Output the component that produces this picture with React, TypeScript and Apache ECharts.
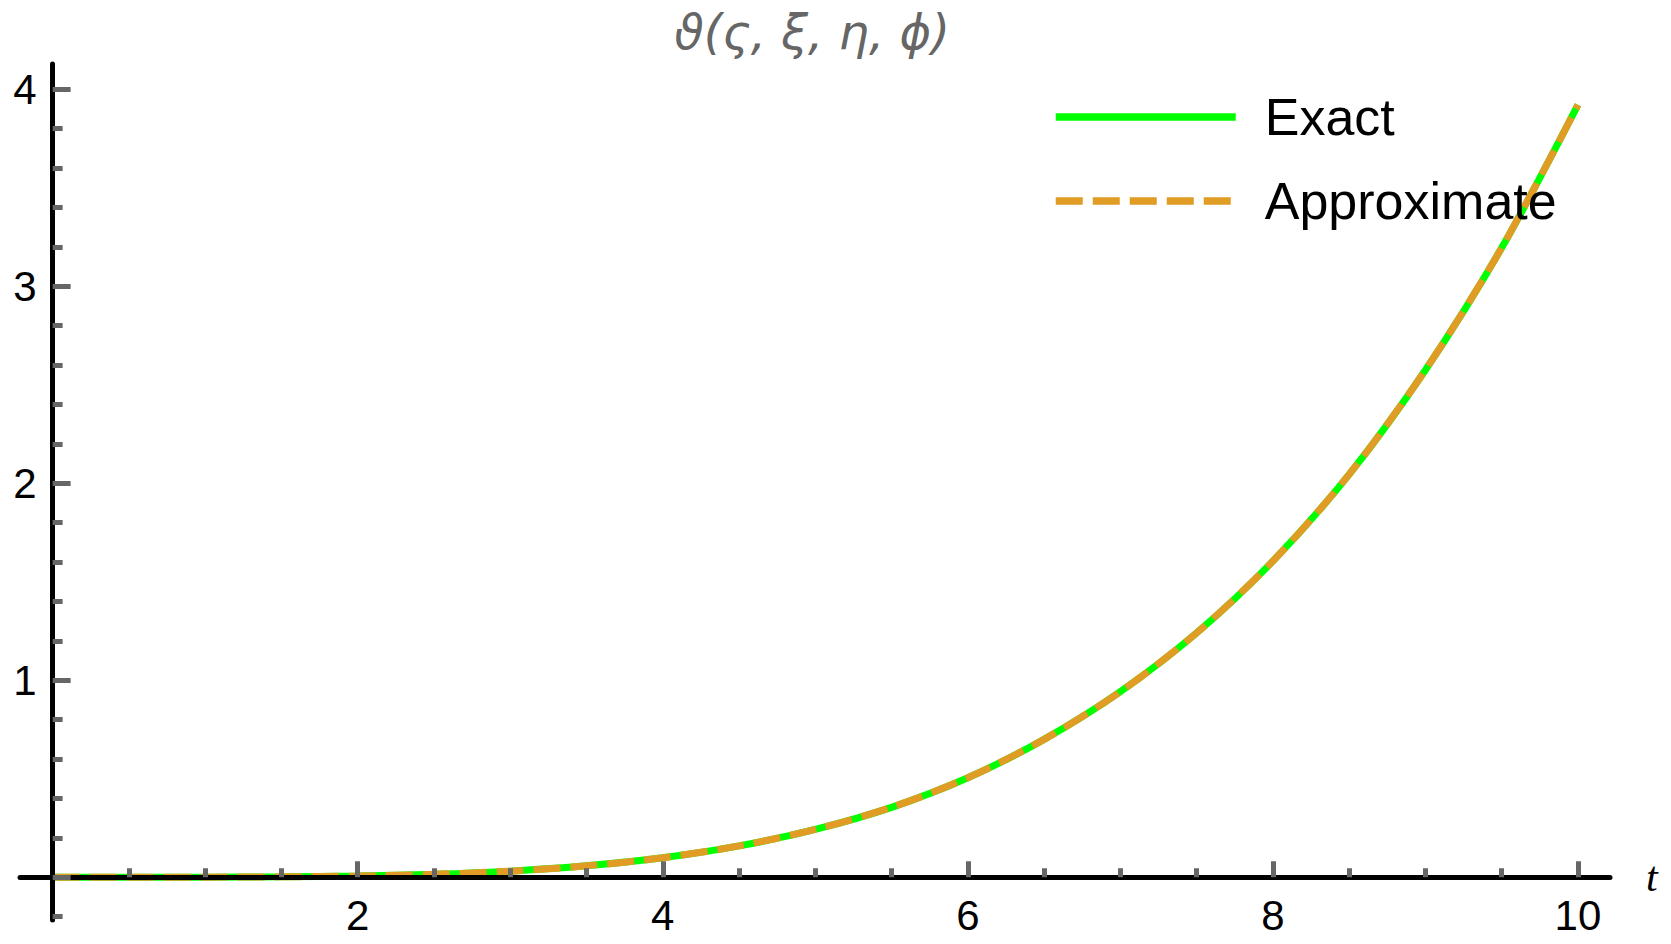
import React, { useEffect, useRef } from "react";
import * as echarts from "echarts";

// ---- data ----
const tValues = [0, 0.5, 1, 1.5, 2, 2.5, 3, 3.5, 4, 4.5, 5, 5.5, 6, 6.5, 7, 7.5, 8, 8.5, 9, 9.5, 10];
const exactValues = [0, 0.0, 0.0004, 0.002, 0.006, 0.015, 0.031, 0.058, 0.099, 0.159, 0.243, 0.355, 0.505, 0.7, 0.942, 1.24, 1.605, 2.045, 2.575, 3.195, 3.92];
const approxValues = [0, 0.0, 0.0004, 0.002, 0.006, 0.015, 0.031, 0.058, 0.099, 0.159, 0.243, 0.355, 0.505, 0.7, 0.942, 1.24, 1.605, 2.045, 2.575, 3.195, 3.92];

const seriesNames = ["Exact", "Approximate"];
const titleText = "ϑ(ς, ξ, η, ϕ)";
const xAxisName = "t";

const xMajorTicks = [2, 4, 6, 8, 10];
const xMinorTicks = [0.5, 1, 1.5, 2.5, 3, 3.5, 4.5, 5, 5.5, 6.5, 7, 7.5, 8.5, 9, 9.5];
const yMajorTicks = [0, 1, 2, 3, 4];
const yTickLabels = [1, 2, 3, 4];
const yMinorTicks = [-0.2, 0.2, 0.4, 0.6, 0.8, 1.2, 1.4, 1.6, 1.8, 2.2, 2.4, 2.6, 2.8, 3.2, 3.4, 3.6, 3.8];

const X_MIN = -0.214;
const X_MAX = 10.21;
const Y_MIN = -0.217;
const Y_MAX = 4.128;

const GRID = { left: 20, right: 61, top: 64, bottom: 24 };
const W = 1671;
const H = 944;

const SANS = "Liberation Sans, Arial, DejaVu Sans, sans-serif";
const TICK_GRAY = "#666666";

export default function App() {
  const ref = useRef<HTMLDivElement>(null);

  useEffect(() => {
    if (!ref.current) return;
    const chart = echarts.init(ref.current, undefined, { renderer: "svg" });

    // place the axes through the origin (value 0 of the other axis)
    const gridW = W - GRID.left - GRID.right;
    const gridH = H - GRID.top - GRID.bottom;
    const zeroXpx = GRID.left + (gridW * (0 - X_MIN)) / (X_MAX - X_MIN);
    const zeroYpx = GRID.top + (gridH * (Y_MAX - 0)) / (Y_MAX - Y_MIN);
    const xAxisOffset = -(H - GRID.bottom - zeroYpx);
    const yAxisOffset = -(zeroXpx - GRID.left);

    const tickLine = { color: TICK_GRAY, width: 5 };

    const option: any = {
      animation: false,
      backgroundColor: "#ffffff",
      title: {
        text: titleText,
        left: 812,
        top: 8,
        textAlign: "center",
        padding: 0,
        textStyle: {
          color: "#666666",
          fontSize: 48,
          fontStyle: "italic",
          fontWeight: "normal",
          fontFamily: "DejaVu Sans, sans-serif",
        },
      },
      legend: {
        data: seriesNames,
        orient: "vertical",
        left: 1052,
        top: 91,
        padding: 0,
        itemWidth: 180,
        itemHeight: 8,
        itemGap: 32,
        itemStyle: { opacity: 0 },
        lineStyle: { width: 7.5 },
        textStyle: {
          color: "#000000",
          fontSize: 52,
          fontFamily: SANS,
          padding: [0, 0, 0, 24],
        },
      },
      grid: {
        left: GRID.left,
        right: GRID.right,
        top: GRID.top,
        bottom: GRID.bottom,
        containLabel: false,
        outerBoundsMode: "none",
      },
      xAxis: [
        {
          type: "value",
          min: X_MIN,
          max: X_MAX,
          position: "bottom",
          offset: xAxisOffset,
          z: 3,
          axisLine: { show: true, onZero: false, lineStyle: { color: "#000000", width: 5 } },
          axisTick: { show: true, inside: true, length: 16, customValues: xMajorTicks, lineStyle: tickLine },
          axisLabel: {
            show: true,
            customValues: xMajorTicks,
            margin: 17,
            color: "#000000",
            fontSize: 42,
            fontFamily: SANS,
          },
          splitLine: { show: false },
          name: xAxisName,
          nameLocation: "end",
          nameGap: 36,
          nameTextStyle: {
            color: "#000000",
            fontSize: 42,
            fontStyle: "italic",
            fontFamily: "Liberation Serif, Times New Roman, serif",
          },
        },
        {
          type: "value",
          min: X_MIN,
          max: X_MAX,
          position: "bottom",
          offset: xAxisOffset,
          z: 3,
          axisLine: { show: false, onZero: false },
          axisTick: { show: true, inside: true, length: 9, customValues: xMinorTicks, lineStyle: tickLine },
          axisLabel: { show: false },
          splitLine: { show: false },
        },
      ],
      yAxis: [
        {
          type: "value",
          min: Y_MIN,
          max: Y_MAX,
          position: "left",
          offset: yAxisOffset,
          z: 3,
          axisLine: { show: true, onZero: false, lineStyle: { color: "#000000", width: 5 } },
          axisTick: { show: true, inside: true, length: 18, customValues: yMajorTicks, lineStyle: tickLine },
          axisLabel: {
            show: true,
            customValues: yTickLabels,
            margin: 16,
            color: "#000000",
            fontSize: 42,
            fontFamily: SANS,
          },
          splitLine: { show: false },
        },
        {
          type: "value",
          min: Y_MIN,
          max: Y_MAX,
          position: "left",
          offset: yAxisOffset,
          z: 3,
          axisLine: { show: false, onZero: false },
          axisTick: { show: true, inside: true, length: 10, customValues: yMinorTicks, lineStyle: tickLine },
          axisLabel: { show: false },
          splitLine: { show: false },
        },
      ],
      series: [
        {
          name: seriesNames[0],
          type: "line",
          xAxisIndex: 0,
          yAxisIndex: 0,
          data: tValues.map((t, i) => [t, exactValues[i]]),
          showSymbol: false,
          symbol: "none",
          smooth: 0.3,
          z: 1,
          itemStyle: { color: "#00ff00" },
          lineStyle: { color: "#00ff00", width: 7 },
        },
        {
          name: seriesNames[1],
          type: "line",
          xAxisIndex: 0,
          yAxisIndex: 0,
          data: tValues.map((t, i) => [t, approxValues[i]]),
          showSymbol: false,
          symbol: "none",
          smooth: 0.3,
          z: 2,
          itemStyle: { color: "#e09c24" },
          lineStyle: { color: "#e09c24", width: 7, type: [27, 10] },
        },
      ],
    };

    chart.setOption(option);
    return () => {
      chart.dispose();
    };
  }, []);

  return (
    <div
      ref={ref}
      style={{ position: "fixed", left: 0, top: 0, width: W, height: H, background: "#fff" }}
    />
  );
}
